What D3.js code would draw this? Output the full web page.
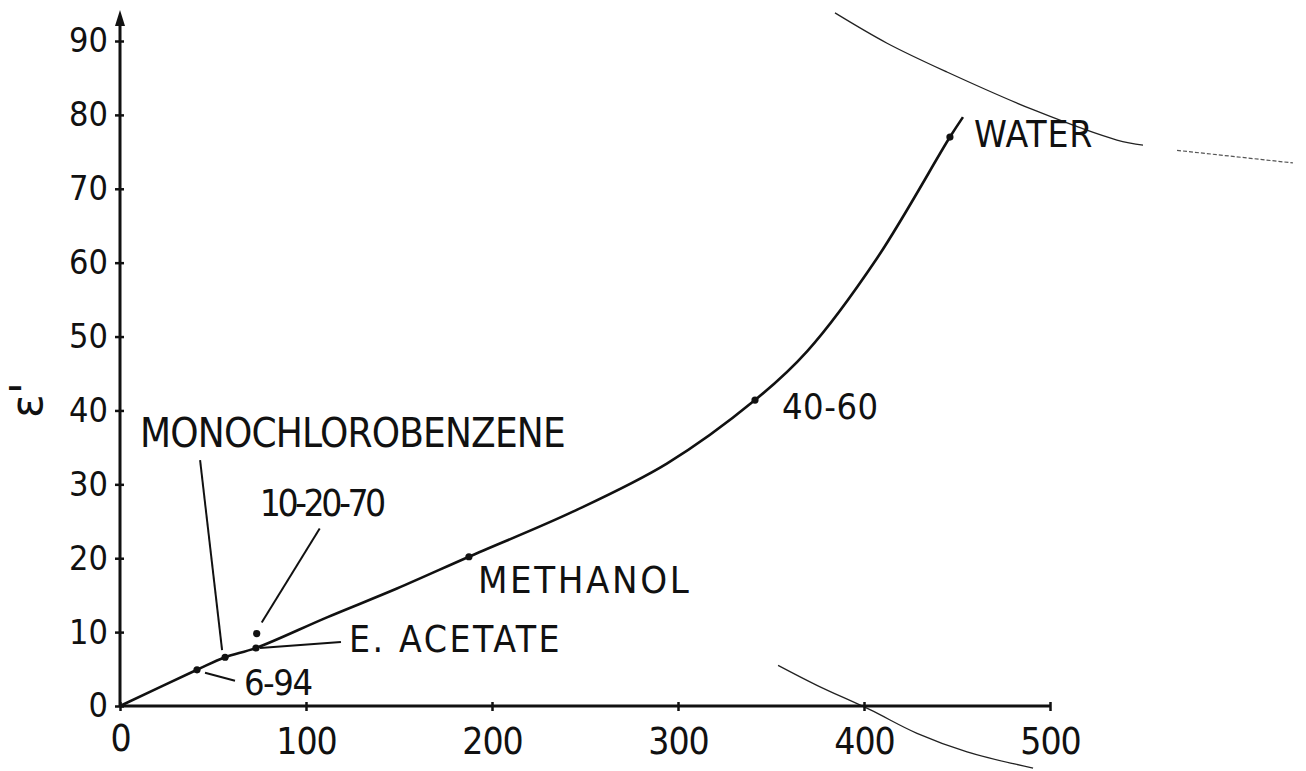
<!DOCTYPE html>
<html>
<head>
<meta charset="utf-8">
<script src="https://cdn.jsdelivr.net/npm/d3@7/dist/d3.min.js"></script>
<style>
  html, body { margin: 0; padding: 0; background: #fff; }
  svg { display: block; }
  text { font-family: "Liberation Sans Narrow", "DejaVu Sans Condensed", "Roboto", sans-serif; fill: #111; }
</style>
</head>
<body>
<svg id="chart" width="1306" height="771"></svg>
<script>
// Dielectric constant ε' against the measured quantity for solvents and mixtures
const xTicks = [0, 100, 200, 300, 400, 500];
const yTicks = [0, 10, 20, 30, 40, 50, 60, 70, 80, 90];

// Calibration curve, read along its length
const curveX = [0, 41.4, 56.5, 73.1, 111.3, 148.9, 187.6, 243.5, 294, 341.4, 369.4, 407, 446.2, 453.2];
const curveY = [0, 4.9, 6.6, 7.85, 12.0, 15.9, 20.2, 26.3, 32.8, 41.4, 48.0, 60.6, 77.0, 79.7];

// Measured liquids
const liquids = ["6-94", "MONOCHLOROBENZENE", "E. ACETATE", "10-20-70", "METHANOL", "40-60", "WATER"];
const liquidX = [41.4, 56.5, 73.1, 73.5, 187.6, 341.4, 446.2];
const liquidEps = [4.9, 6.6, 7.85, 9.8, 20.2, 41.4, 77.0];

// Faint neighbouring curves crossing the sheet
const upperArcX = [384.4, 412.4, 444.6, 490.9, 536, 550];
const upperArcY = [93.8, 89.7, 85.8, 80.7, 76.6, 75.9];
const upperTailX = [568.3, 630.6];
const upperTailY = [75.2, 73.5];
const lowerArcX = [353.8, 374.7, 403.2, 428.5, 455.4, 490.9];
const lowerArcY = [5.5, 2.8, -0.5, -3.7, -6.2, -8.4];

const svg = d3.select("#chart");
const x = d3.scaleLinear().domain([0, 500]).range([120, 1050]);
const y = d3.scaleLinear().domain([0, 90]).range([706, 41]);
const yAxisTop = 94.2;

const line = d3.line().x(d => x(d[0])).y(d => y(d[1]));
const smooth = d3.line().x(d => x(d[0])).y(d => y(d[1])).curve(d3.curveCatmullRom.alpha(0.5));

// Background arcs
svg.append("path")
  .datum(d3.zip(upperArcX, upperArcY))
  .attr("d", smooth).attr("fill", "none").attr("stroke", "#222").attr("stroke-width", 1.3);
svg.append("path")
  .datum(d3.zip(upperTailX, upperTailY))
  .attr("d", line).attr("fill", "none").attr("stroke", "#555").attr("stroke-width", 1.2)
  .attr("stroke-dasharray", "4 2");
svg.append("path")
  .datum(d3.zip(lowerArcX, lowerArcY))
  .attr("d", smooth).attr("fill", "none").attr("stroke", "#222").attr("stroke-width", 1.3);

// Axes
const yAxis = d3.axisLeft(y).tickValues(yTicks).tickSize(5).tickPadding(7);
const gy = svg.append("g").attr("transform", `translate(${x(0)},0)`).call(yAxis);
gy.select(".domain").remove();
gy.selectAll(".tick line").attr("stroke", "#111").attr("stroke-width", 2.5);
gy.selectAll(".tick").append("line").attr("x2", 4).attr("stroke", "#111").attr("stroke-width", 2.5);
gy.selectAll(".tick text").style("font-size", "34px").attr("fill", "#111");

const xAxis = d3.axisBottom(x).tickValues(xTicks).tickSize(5).tickPadding(17);
const gx = svg.append("g").attr("transform", `translate(0,${y(0)})`).call(xAxis);
gx.select(".domain").remove();
gx.selectAll(".tick line").attr("stroke", "#111").attr("stroke-width", 2.5);
gx.selectAll(".tick").append("line").attr("y2", -4).attr("stroke", "#111").attr("stroke-width", 2.5);
gx.selectAll(".tick text").style("font-size", "37px").style("letter-spacing", "-1px").attr("fill", "#111");
gx.selectAll(".tick").filter(d => d === 0).select("text").attr("dy", "0.62em");

svg.append("line")
  .attr("x1", x(0)).attr("x2", x(500)).attr("y1", y(0)).attr("y2", y(0))
  .attr("stroke", "#111").attr("stroke-width", 3);
svg.append("line")
  .attr("x1", x(0)).attr("x2", x(0)).attr("y1", y(0)).attr("y2", y(yAxisTop) + 10)
  .attr("stroke", "#111").attr("stroke-width", 3);
svg.append("path")
  .attr("d", d3.line()([[x(0) - 5, y(yAxisTop) + 16], [x(0), y(yAxisTop)], [x(0) + 5, y(yAxisTop) + 16]]) + "Z")
  .attr("fill", "#111");

// Axis title
svg.append("text")
  .attr("transform", "translate(27,400) rotate(-90)")
  .attr("text-anchor", "middle").attr("dy", "0.35em")
  .style("font-family", "'DejaVu Sans', sans-serif")
  .style("font-size", "44px")
  .text("ε'");

// Curve
svg.append("path")
  .datum(d3.zip(curveX, curveY))
  .attr("d", smooth).attr("fill", "none").attr("stroke", "#111").attr("stroke-width", 2.6);

// Points
const pts = liquids.map((name, i) => ({ name, x: liquidX[i], eps: liquidEps[i] }));
svg.selectAll("circle.pt").data(pts).join("circle")
  .attr("class", "pt")
  .attr("cx", d => x(d.x)).attr("cy", d => y(d.eps))
  .attr("r", 3.6).attr("fill", "#111");

// Labels: text anchor offset and optional leader (both relative to the point, in px)
const labelStyle = {
  "6-94":              { dx: 47,  dy: 25,   size: 36, ls: -1.5, lead: [[8, 3], [38, 11]] },
  "MONOCHLOROBENZENE": { dx: -85, dy: -210, size: 40, ls: -0.8, lead: [[-25, -197], [-3, -7]] },
  "E. ACETATE":        { dx: 93,  dy: 4,    size: 37, ls: 2.6,  lead: [[85, -6], [4, 0]] },
  "10-20-70":          { dx: 3,   dy: -118, size: 37, ls: -3.5, lead: [[63, -105], [5, -11]] },
  "METHANOL":          { dx: 9,   dy: 36,   size: 38, ls: 2.6,  lead: null },
  "40-60":             { dx: 27,  dy: 19,   size: 36, ls: 0.5,  lead: null },
  "WATER":             { dx: 24,  dy: 10,   size: 37, ls: 0.8,  lead: null }
};

const lab = svg.append("g");
pts.forEach(d => {
  const s = labelStyle[d.name];
  const px = x(d.x), py = y(d.eps);
  lab.append("text")
    .attr("x", px + s.dx).attr("y", py + s.dy)
    .style("font-size", s.size + "px")
    .style("letter-spacing", s.ls + "px")
    .text(d.name);
  if (s.lead) {
    lab.append("line")
      .attr("x1", px + s.lead[0][0]).attr("y1", py + s.lead[0][1])
      .attr("x2", px + s.lead[1][0]).attr("y2", py + s.lead[1][1])
      .attr("stroke", "#111").attr("stroke-width", 2);
  }
});
</script>
</body>
</html>
